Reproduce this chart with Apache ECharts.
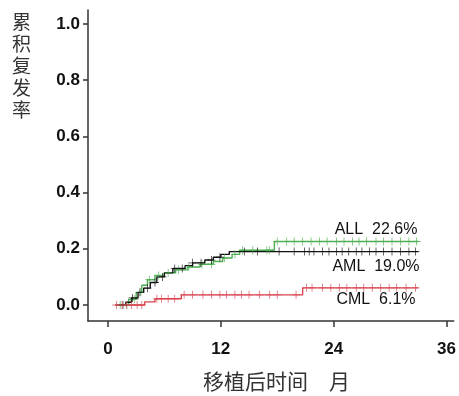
<!DOCTYPE html>
<html>
<head>
<meta charset="utf-8">
<script src="https://cdn.jsdelivr.net/npm/echarts@6/dist/echarts.min.js"></script>
<style>html,body{margin:0;padding:0;background:#fff}#c{width:459px;height:396px}</style>
</head>
<body>
<div id="c"></div>
<script>
// ---- data ----
var xTicks = [0, 12, 24, 36];
var yTicks = [0, 0.2, 0.4, 0.6, 0.8, 1.0];

var allTimes  = [0.9, 2.2, 3.0, 3.6, 4.2, 5.0, 6.0, 7.2, 8.5, 9.8, 11.2, 12.2, 13.2, 14.0, 17.7, 33.0];
var allValues = [0, 0.02, 0.045, 0.07, 0.09, 0.105, 0.115, 0.125, 0.135, 0.145, 0.155, 0.167, 0.18, 0.195, 0.226, 0.226];
var allCensor = [1.3, 2.0, 2.8, 3.5, 4.4, 5.4, 6.4, 7.5, 8.6, 10.0, 11.0, 12.4, 13.5, 14.3, 15.4, 16.9, 17.2,
                 18.0, 19.0, 19.8, 20.7, 21.6, 22.5, 23.3, 24.3, 25.1, 26.0, 26.7, 27.5, 28.5, 29.3, 30.2, 31.1, 32.0, 32.8];

var amlTimes  = [1.0, 1.9, 2.5, 3.2, 3.8, 4.5, 5.2, 6.0, 6.9, 8.2, 9.0, 10.3, 11.2, 12.0, 12.9, 33.0];
var amlValues = [0, 0.01, 0.025, 0.045, 0.06, 0.08, 0.10, 0.115, 0.13, 0.14, 0.15, 0.16, 0.17, 0.18, 0.19, 0.19];
var amlCensor = [1.6, 2.6, 3.4, 4.2, 5.0, 5.8, 7.1, 7.9, 9.0, 9.9, 11.0, 11.9, 14.5, 15.9, 18.2, 19.8, 20.9, 21.4,
                 21.9, 22.8, 23.5, 24.3, 24.9, 25.6, 26.4, 27.0, 27.8, 28.5, 29.3, 30.2, 31.1, 32.0, 32.7];

var cmlTimes  = [0.75, 3.9, 5.0, 7.8, 20.7, 33.0];
var cmlValues = [0, 0.011, 0.022, 0.036, 0.061, 0.061];
var cmlCensor = [0.9, 1.5, 2.0, 2.5, 3.1, 3.6, 5.2, 5.7, 6.4, 7.1, 8.1, 9.0, 10.1, 11.0, 11.9, 12.6, 13.5, 14.2, 15.0,
                 16.1, 17.2, 18.0, 20.0, 21.1, 21.7, 22.8, 23.7, 24.6, 25.4, 26.4, 27.2, 28.1, 29.0, 29.9, 30.7, 31.7, 32.7];

var labels = ['ALL  22.6%', 'AML  19.0%', 'CML  6.1%'];
var labelPos = [[28.5, 0.267], [28.5, 0.135], [28.5, 0.018]];

// ---- helpers ----
function stepAt(times, vals, t) {
  var v = vals[0];
  for (var i = 0; i < times.length; i++) { if (times[i] <= t) v = vals[i]; }
  return v;
}
function zip(a, b) { return a.map(function (x, i) { return [x, b[i]]; }); }
function censorPts(times, vals, c) { return c.map(function (t) { return [t, stepAt(times, vals, t)]; }); }

var plus = 'path://M-0.6,-6 H0.6 V-0.6 H6 V0.6 H0.6 V6 H-0.6 V0.6 H-6 V-0.6 H-0.6 Z';
var cols = ['#4dae52', '#111111', '#d8434e'];
var groups = [[allTimes, allValues, allCensor], [amlTimes, amlValues, amlCensor], [cmlTimes, cmlValues, cmlCensor]];

var series = [];
groups.forEach(function (g, i) {
  series.push({
    type: 'line', step: 'end', data: zip(g[0], g[1]), showSymbol: false, symbol: 'none',
    lineStyle: { color: cols[i], width: 1.4 }, silent: true, animation: false, z: 2,
    markPoint: {
      symbol: 'circle', symbolSize: 0, silent: true, animation: false,
      label: { show: true, position: 'inside', formatter: labels[i], color: '#111',
               fontFamily: 'Liberation Sans, Arial, sans-serif', fontSize: 16 },
      data: [{ coord: labelPos[i] }]
    }
  });
  series.push({
    type: 'scatter', data: censorPts(g[0], g[1], g[2]), symbol: plus, symbolSize: 8,
    itemStyle: { color: cols[i] }, silent: true, animation: false, z: 3
  });
});

var chart = echarts.init(document.getElementById('c'), null, { renderer: 'canvas' });
chart.setOption({
  animation: false,
  backgroundColor: '#fff',
  grid: { left: 88, right: 4, top: 10, bottom: 75, containLabel: false },
  xAxis: {
    type: 'value', min: -2.12, max: 36.76,
    axisLine: { show: true, onZero: false, lineStyle: { color: '#333', width: 1.5 } },
    axisTick: { show: true, customValues: xTicks, length: 6, lineStyle: { color: '#333', width: 1.5 } },
    axisLabel: { customValues: xTicks, margin: 20, color: '#111', fontWeight: 'bold', fontSize: 17,
                 fontFamily: 'Liberation Sans, Arial, sans-serif' },
    splitLine: { show: false }
  },
  yAxis: {
    type: 'value', min: -0.057, max: 1.05,
    axisLine: { show: true, onZero: false, lineStyle: { color: '#333', width: 1.5 } },
    axisTick: { show: true, customValues: yTicks, length: 5, lineStyle: { color: '#333', width: 1.5 } },
    axisLabel: { customValues: yTicks, margin: 8, color: '#111', fontWeight: 'bold', fontSize: 17,
                 fontFamily: 'Liberation Sans, Arial, sans-serif',
                 formatter: function (v) { return v.toFixed(1); } },
    splitLine: { show: false }
  },
  graphic: [
    { type: 'text', left: 12, top: 11,
      style: { text: '累\n积\n复\n发\n率', font: '19px "Noto Sans CJK SC"', lineHeight: 22, fill: '#333' } },
    { type: 'text', left: 203, top: 371,
      style: { text: '移植后时间\u3000月', font: '21px "Noto Sans CJK SC"', fill: '#333' } }
  ],
  series: series
});
</script>
</body>
</html>
